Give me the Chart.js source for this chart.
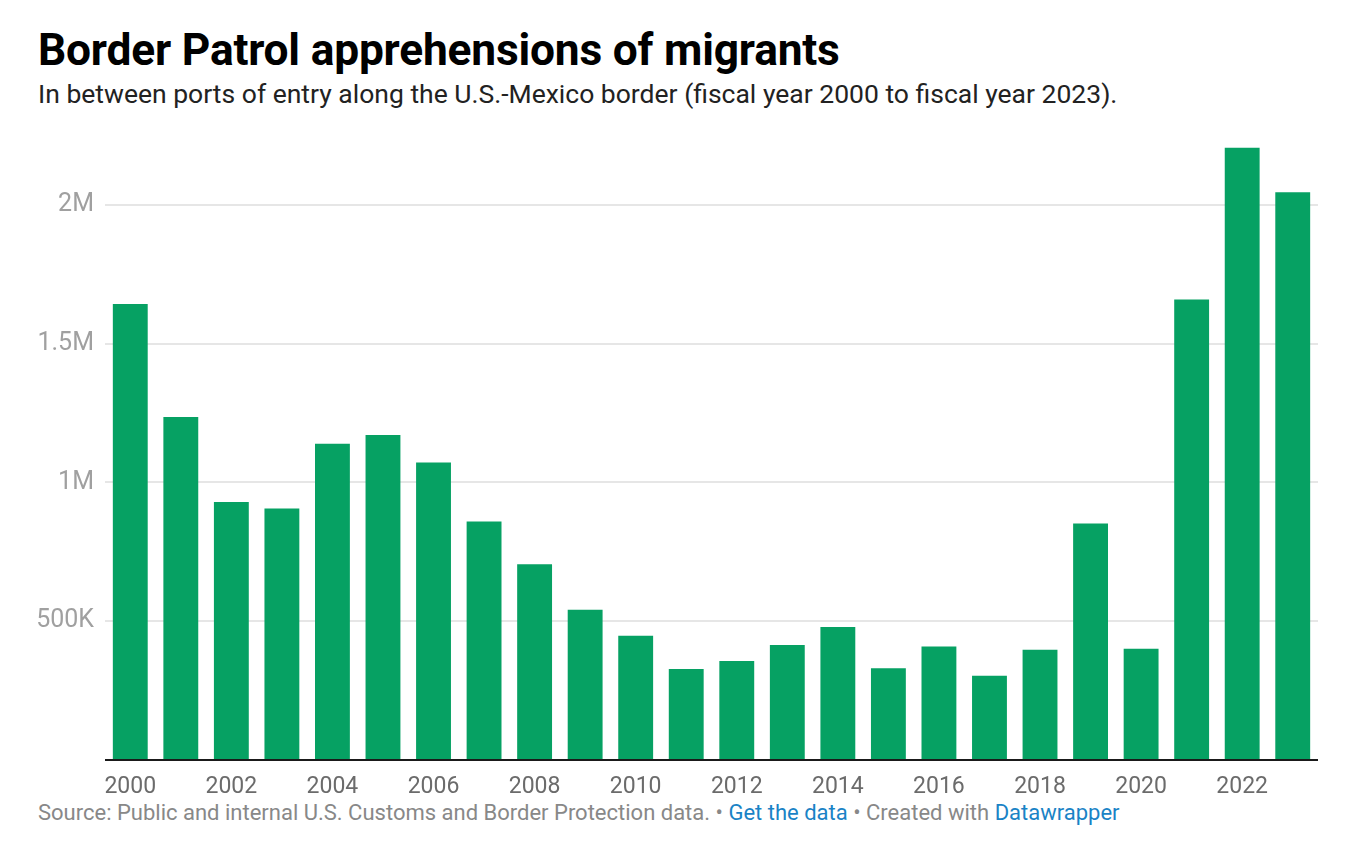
<!DOCTYPE html>
<html lang="en">
<head>
<meta charset="UTF-8">
<title>Border Patrol apprehensions of migrants</title>
<script src="https://cdn.jsdelivr.net/npm/chart.js"></script>
<style>
    body { margin: 0; background: #fff; font-family: Roboto, sans-serif; }
    .wrap { position: relative; width: 1358px; height: 844px; }
    h1 { position: absolute; left: 38px; top: 24px; margin: 0; font-size: 44.3px; font-weight: 700; color: #000; letter-spacing: -0.2px; }
    .sub { position: absolute; left: 38px; top: 78px; margin: 0; font-size: 26.5px; color: #222; }
    .foot { position: absolute; left: 38px; top: 800px; font-size: 22px; color: #888; }
    .foot a { color: #1a83c6; text-decoration: none; }
    #chartBox { position: absolute; left: 0; top: 120px; width: 1358px; height: 680px; }
</style>
</head>
<body>
<div class="wrap">
    <h1>Border Patrol apprehensions of migrants</h1>
    <p class="sub">In between ports of entry along the U.S.-Mexico border (fiscal year 2000 to fiscal year 2023).</p>
    <div id="chartBox"><canvas id="grafico"></canvas></div>
    <div class="foot">Source: Public and internal U.S. Customs and Border Protection data. • <a href="#">Get the data</a> • Created with <a href="#">Datawrapper</a></div>
</div>

<script>
    // fiscal years and apprehensions
    const years = ['2000','2001','2002','2003','2004','2005','2006','2007','2008','2009','2010','2011',
                   '2012','2013','2014','2015','2016','2017','2018','2019','2020','2021','2022','2023'];
    const apprehensions = [1643000, 1236000, 930000, 906000, 1140000, 1171000, 1072000, 859000, 705000, 541000, 448000, 328000,
                           357000, 414000, 479000, 331000, 409000, 304000, 397000, 852000, 401000, 1659000, 2206000, 2046000];
    const yTicks = [0, 500000, 1000000, 1500000, 2000000];
    const yTickLabels = ['', '500K', '1M', '1.5M', '2M'];

    const ctx = document.getElementById('grafico').getContext('2d');
    new Chart(ctx, {
        type: 'bar',
        data: {
            labels: years,
            datasets: [{
                data: apprehensions,
                backgroundColor: '#06a163',
                categoryPercentage: 1,
                barPercentage: 0.69
            }]
        },
        options: {
            responsive: true,
            maintainAspectRatio: false,
            animation: false,
            layout: { padding: { top: 15.6, right: 40, left: 0, bottom: 0 } },
            plugins: { legend: { display: false }, tooltip: { enabled: false } },
            scales: {
                x: {
                    grid: { display: false },
                    border: { display: false },
                    ticks: {
                        autoSkip: false,
                        maxRotation: 0,
                        padding: 5,
                        color: '#6b6b6b',
                        font: { family: 'Roboto', size: 23 },
                        callback: (v, i) => i % 2 === 0 ? years[i] : ''
                    },
                    afterFit: s => { s.height = 40; s.paddingLeft = 0; s.paddingRight = 0; }
                },
                y: {
                    min: 0,
                    max: 2250000,
                    border: { display: false },
                    grid: {
                        drawTicks: false,
                        lineWidth: 2,
                        color: c => c.tick && c.tick.value === 0 ? '#1a1a1a' : '#e6e6e6'
                    },
                    afterBuildTicks: s => { s.ticks = yTicks.map(v => ({ value: v })); },
                    afterFit: s => { s.width = 105; s.paddingTop = 0; s.paddingBottom = 0; },
                    ticks: {
                        padding: 11,
                        color: '#a0a0a0',
                        font: { family: 'Roboto', size: 25 },
                        callback: v => yTickLabels[yTicks.indexOf(v)]
                    }
                }
            }
        }
    });
</script>
</body>
</html>
